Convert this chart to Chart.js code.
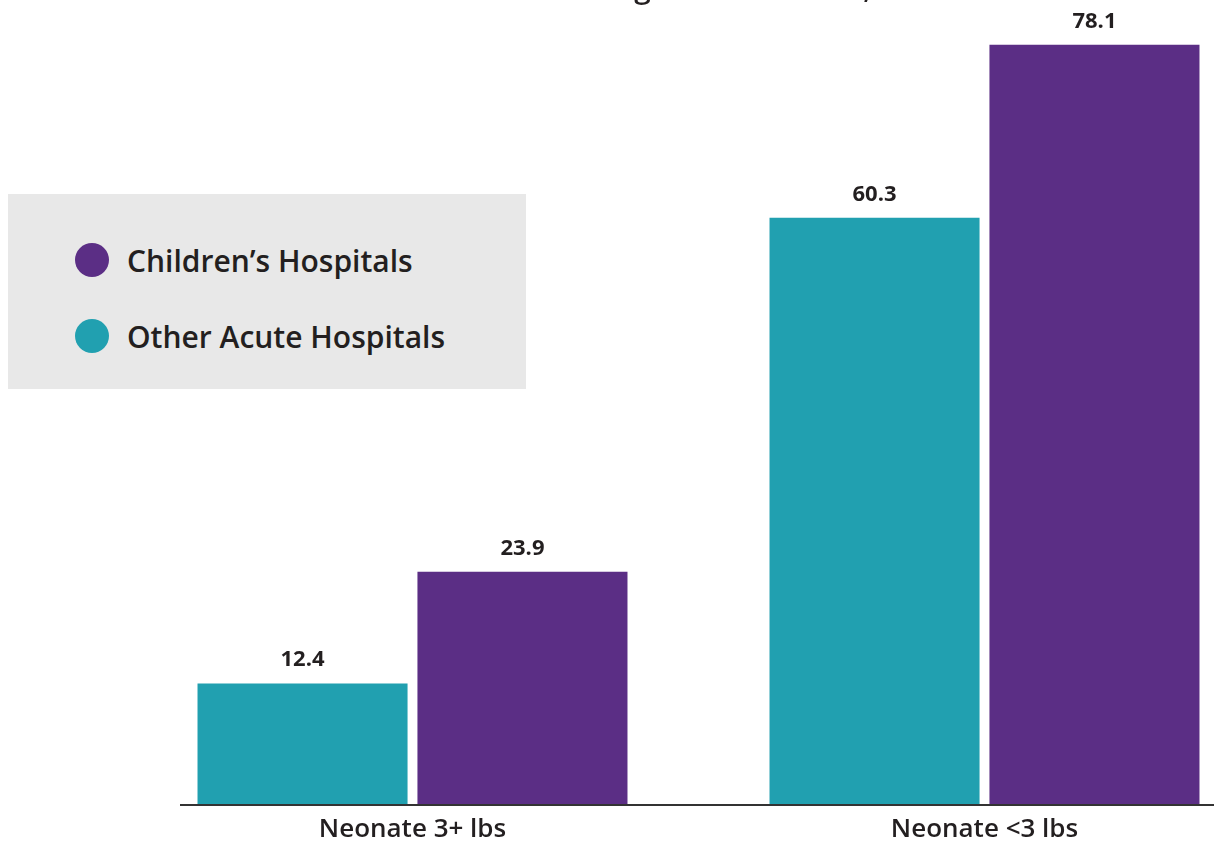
<!DOCTYPE html>
<html>
<head>
<meta charset="utf-8">
<script src="https://cdn.jsdelivr.net/npm/chart.js@4.4.1/dist/chart.umd.min.js"></script>
<style>
  html, body { margin:0; padding:0; background:#fff; overflow:hidden; }
  #wrap { position:relative; width:1214px; height:841px; overflow:hidden; }
  #c { position:absolute; left:0; top:0; }
  #legend {
    position:absolute; left:8px; top:194px; width:518px; height:195px;
    background:#e8e8e8; font-family:"Open Sans", Lato, sans-serif;
  }
  .item { position:absolute; left:67px; height:34px; display:flex; align-items:center; font-size:30px; font-weight:600; color:#231f20; white-space:nowrap; }
  .dot { width:34px; height:34px; border-radius:50%; margin-right:18px; flex:none; }
</style>
</head>
<body>
<div id="wrap">
  <canvas id="c" width="1300" height="841"></canvas>
  <div id="legend"></div>
</div>
<script>
const categories = ["Neonate 3+ lbs", "Neonate <3 lbs"];
const otherAcute = [12.4, 60.3];
const childrens = [23.9, 78.1];
const seriesNames = ["Other Acute Hospitals", "Children\u2019s Hospitals"];
const seriesColors = ["#21a0b0", "#5b2e85"];
const titleText = "Neonatal Surgical Conditions, %";

// legend, children's listed first like the original
const legend = document.getElementById("legend");
[1,0].forEach((i,k)=>{
  const d=document.createElement("div");
  d.className="item";
  d.style.top=(k===0?49:125)+"px";
  d.innerHTML=`<span class="dot" style="background:${seriesColors[i]}"></span>${seriesNames[i]}`;
  legend.appendChild(d);
});

const extras = {
  id:"extras",
  afterDatasetsDraw(chart){
    const {ctx, chartArea} = chart;
    ctx.save();
    // value labels over bars
    ctx.font = "700 22px 'Open Sans', Lato, sans-serif";
    ctx.fillStyle = "#231f20";
    ctx.textAlign = "center";
    ctx.textBaseline = "alphabetic";
    chart.data.datasets.forEach((ds,i)=>{
      chart.getDatasetMeta(i).data.forEach((bar,j)=>{
        ctx.fillText(ds.data[j].toFixed(1), bar.x, bar.y - 17);
      });
    });
    // base line
    ctx.strokeStyle = "#333";
    ctx.lineWidth = 2;
    ctx.beginPath();
    ctx.moveTo(180, chartArea.bottom + 1);
    ctx.lineTo(1214, chartArea.bottom + 1);
    ctx.stroke();
    // title, cut off at the top edge
    ctx.font = "600 30px 'Open Sans', Lato, sans-serif";
    ctx.fillText(titleText, 675, -2);
    ctx.restore();
  }
};

new Chart(document.getElementById("c"), {
  type: "bar",
  data: {
    labels: categories,
    datasets: [
      { label: seriesNames[0], data: otherAcute, backgroundColor: seriesColors[0] },
      { label: seriesNames[1], data: childrens, backgroundColor: seriesColors[1] }
    ]
  },
  options: {
    responsive: false,
    animation: false,
    layout: { padding: { left: 126.5, right: 29.5, top: 0, bottom: 0 } },
    datasets: { bar: { categoryPercentage: 0.769, barPercentage: 0.955 } },
    plugins: { legend: { display: false }, tooltip: { enabled: false } },
    scales: {
      x: {
        grid: { display: false, drawTicks: false },
        border: { display: false },
        ticks: {
          padding: 10,
          color: "#231f20",
          font: { family: "'Open Sans', Lato, sans-serif", size: 26, weight: "600" }
        },
        afterFit(scale){ scale.height = 37; }
      },
      y: { display: false, min: 0, max: 82.7 }
    }
  },
  plugins: [extras]
});
</script>
</body>
</html>
